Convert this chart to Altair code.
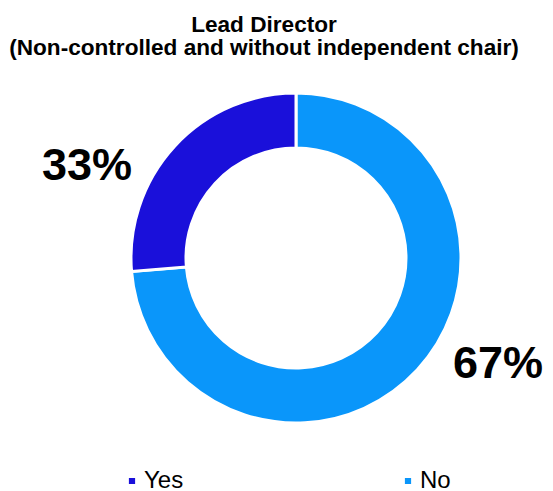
import altair as alt
import pandas as pd

# Data
categories = ["No", "Yes"]
slice_share = [73.7, 26.3]          # arc sizes as drawn in the picture
pct_labels = ["67%", "33%"]          # labels printed on the chart
colors = ["#0A96FA", "#1A10DA"]
title_lines = ["Lead Director", "(Non-controlled and without independent chair)"]

df = pd.DataFrame({
    "category": categories,
    "share": slice_share,
    "order": [0, 1],
})

W, H = 553, 491
CX, CY = 296, 258
R_OUT, R_IN = 165, 110

color_scale = alt.Scale(domain=["Yes", "No"], range=[colors[1], colors[0]])

donut = alt.Chart(df).mark_arc(
    outerRadius=R_OUT, innerRadius=R_IN, stroke="white", strokeWidth=3
).encode(
    theta=alt.Theta("share:Q", stack=True),
    order=alt.Order("order:Q"),
    color=alt.Color(
        "category:N", scale=color_scale,
        legend=alt.Legend(
            title=None, orient="none", legendX=120, legendY=469,
            direction="horizontal", symbolType="square", symbolSize=60,
            labelFont="Liberation Sans", labelFontSize=24, labelColor="black",
            symbolOffset=0, labelOffset=0, columnPadding=212, padding=0,
        ),
    ),
    x=alt.value(CX), y=alt.value(CY),
)

lab_df = pd.DataFrame({
    "text": [pct_labels[1], pct_labels[0]],
    "px": [87, 498],
    "py": [180, 378],
})
labels = alt.Chart(lab_df).mark_text(
    font="Liberation Sans", fontSize=45, fontWeight="bold", color="black",
    align="center", baseline="alphabetic",
).encode(
    x=alt.X("px:Q", scale=alt.Scale(domain=[0, W], range=[0, W]), axis=None),
    y=alt.Y("py:Q", scale=alt.Scale(domain=[0, H], range=[0, H]), axis=None),
    text="text:N",
)

t_df = pd.DataFrame({"text": title_lines, "px": [264, 264], "py": [32, 55]})
title = alt.Chart(t_df).mark_text(
    font="Liberation Sans", fontSize=22.6, fontWeight="bold", color="black",
    align="center", baseline="alphabetic",
).encode(
    x=alt.X("px:Q", scale=alt.Scale(domain=[0, W], range=[0, W]), axis=None),
    y=alt.Y("py:Q", scale=alt.Scale(domain=[0, H], range=[0, H]), axis=None),
    text="text:N",
)

chart = alt.layer(donut, labels, title).resolve_scale(
    x="shared", y="shared"
).properties(
    width=W, height=H, padding=0, autosize=alt.AutoSizeParams(type="none"),
    background="white",
).configure_view(stroke=None)

chart.save("out.html", embed_options={"renderer": "svg", "actions": False})
